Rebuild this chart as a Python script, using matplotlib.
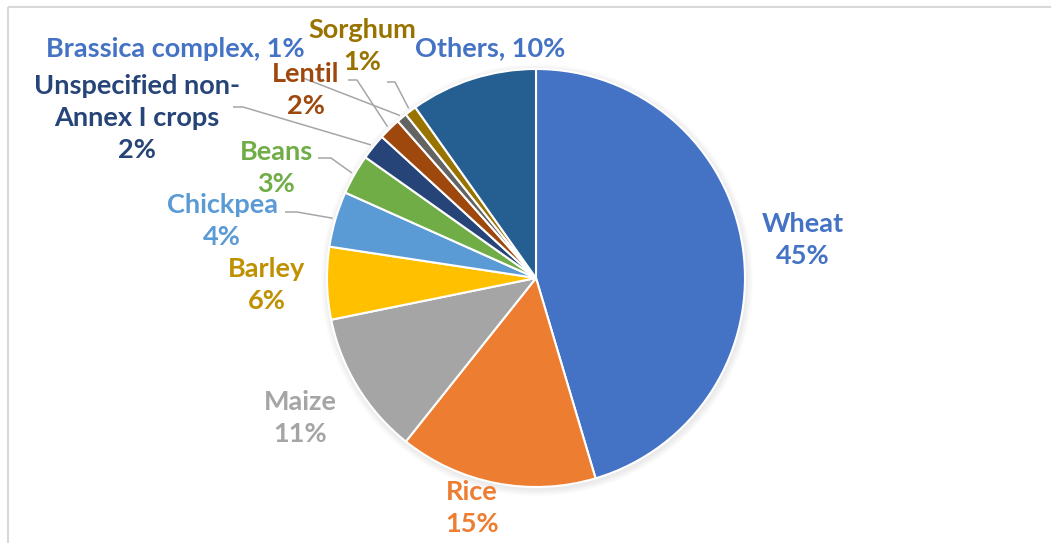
import numpy as np
import matplotlib.pyplot as plt
from matplotlib.patches import Circle, Rectangle

# Crop share data (clockwise from 12 o'clock)
crops = ["Wheat", "Rice", "Maize", "Barley", "Chickpea", "Beans",
         "Unspecified non-\nAnnex I crops", "Lentil", "Brassica complex",
         "Sorghum", "Others"]
shares = [45.4, 15.3, 11.1, 5.6, 4.3, 3.1, 2.0, 1.7, 0.8, 0.9, 9.8]

slice_colors = ["#4472C4", "#ED7D31", "#A5A5A5", "#FFC000", "#5B9BD5", "#70AD47",
                "#264478", "#9E480E", "#636363", "#997300", "#255E91"]
text_colors = ["#4472C4", "#ED7D31", "#A5A5A5", "#BF9000", "#5B9BD5", "#70AD47",
               "#264478", "#9E480E", "#4472C4", "#997300", "#4472C4"]

# label layout in pixel coords (x, y of text centre) and name/value separator
label_pos = [(803, 240), (472, 508), (300, 418), (267, 285), (222, 221), (276, 168),
             (137, 118), (306, 90), (175, 49), (362, 46), (490, 48)]
label_sep = ["\n", "\n", "\n", "\n", "\n", "\n", "\n", "\n", ", ", "\n", ", "]
# leader lines: (start, elbow) per slice, None = no leader
leaders = [None, None, None, None, ((285, 212), (297, 212)), ((318, 158), (331, 158)),
           ((233, 107), (243, 107)), ((348, 80), (357, 80)), ((303, 78), None),
           ((387, 82), (395, 82)), None]

W, H = 1051, 543
CX, CY, R = 536, 278, 209
FONT = "Lato"

fig = plt.figure(figsize=(W / 100, H / 100), dpi=100, facecolor="white")
ax = fig.add_axes([0, 0, 1, 1])

# soft shadow round the pie
for i in range(1, 8):
    ax.add_patch(Circle((CX + 1, CY + 2), R + i, color="black", alpha=0.012,
                        lw=0, zorder=0))

# y axis is inverted, so counterclock in data space is clockwise on screen
wedges, _ = ax.pie(shares, colors=slice_colors, startangle=-90, counterclock=True,
                   center=(CX, CY), radius=R,
                   wedgeprops=dict(edgecolor="white", linewidth=1.5))

ax.set_xlim(0, W)
ax.set_ylim(H, 0)
ax.set_aspect("auto")
ax.axis("off")

total = sum(shares)
for w, name, val, col, pos, sep, ld in zip(wedges, crops, shares, text_colors,
                                           label_pos, label_sep, leaders):
    pct = round(val / total * 100)
    ax.text(pos[0], pos[1], f"{name}{sep}{pct}%", color=col, fontsize=19.5,
            fontweight="bold", family=FONT, ha="center", va="center",
            linespacing=1.42, zorder=5)
    if ld is not None:
        mid = np.deg2rad((w.theta1 + w.theta2) / 2)
        end = (CX + (R + 3) * np.cos(mid), CY + (R + 3) * np.sin(mid))
        pts = [ld[0]] + ([ld[1]] if ld[1] is not None else []) + [end]
        ax.plot([p[0] for p in pts], [p[1] for p in pts], color="#A6A6A6",
                lw=1.1, zorder=4, solid_capstyle="butt")

# chart area border (only top/left visible in the crop)
ax.add_patch(Rectangle((7.5, 6.5), W + 20, H + 20, fill=False,
                       edgecolor="#D9D9D9", lw=1.5, zorder=6, clip_on=True))

fig.savefig("out.png", dpi=100, facecolor="white")
